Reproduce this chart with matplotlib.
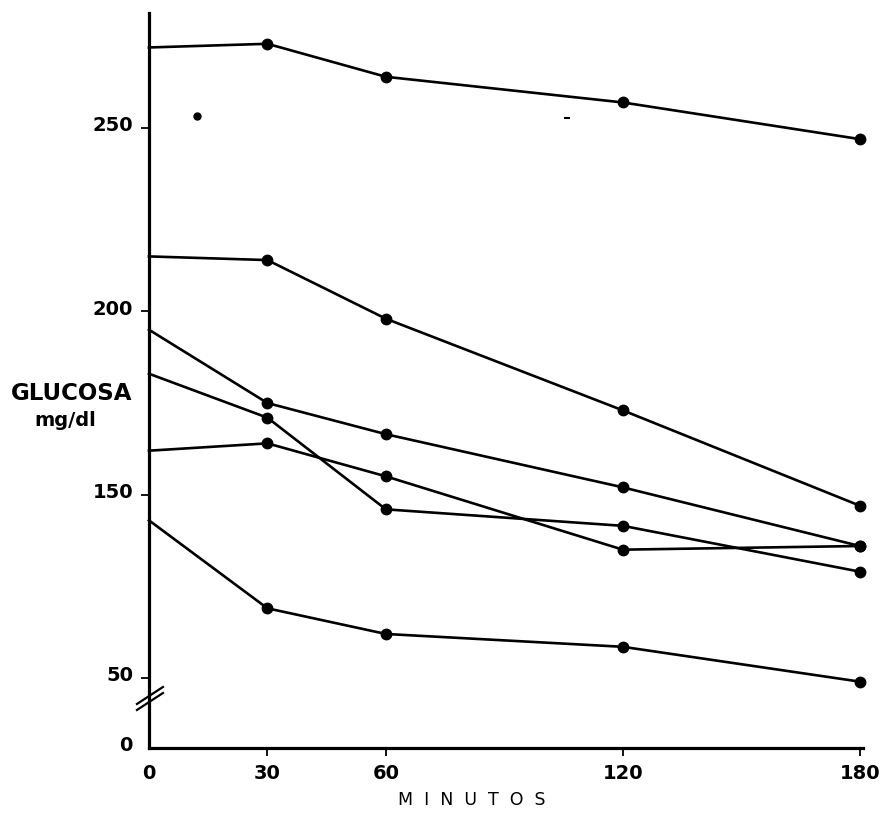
import matplotlib
matplotlib.use("Agg")
import matplotlib.pyplot as plt
import matplotlib.transforms as mtransforms

#########################
# DATA
#########################

MINUTES = [0, 30, 60, 120, 180]

# one list per patient curve, mg/dl (linear scale of the drawing)
CURVE_1 = [272, 273, 264, 257, 247]
CURVE_2 = [215, 214, 198, 173, 147]
CURVE_3 = [195, 175, 166.5, 152, 136]
CURVE_4 = [183, 171, 146, 141.5, 129]
CURVE_5 = [162, 164, 155, 135, 136]
CURVE_6 = [143, 119, 112, 108.5, 99]
CURVES = [CURVE_1, CURVE_2, CURVE_3, CURVE_4, CURVE_5, CURVE_6]

X_TICKS = [0, 30, 60, 120, 180]
X_LABELS = ["0", "30", "60", "120", "180"]

# tick at the axis break is printed "50" in the original
Y_BOTTOM = 80.9
Y_TOP = 281.4
Y_TICKS = [Y_BOTTOM, 100, 150, 200, 250]
Y_LABELS = ["0", "50", "150", "200", "250"]

# specks of the scan inside the plot area
SPECK_X = [12.2]
SPECK_Y = [253.3]
DASH_X = [105.8]
DASH_Y = [252.7]

#########################
# FIGURE
#########################

fig = plt.figure(figsize=(8.83, 8.18), dpi=100)
ax = fig.add_axes([0.1687, 0.0856, 0.8086, 0.8985])

for curve in CURVES:
    ax.plot(MINUTES, curve, color="black", lw=1.9, marker="o", ms=7.5,
            markevery=[1, 2, 3, 4], solid_joinstyle="round", clip_on=False)

ax.plot(SPECK_X, SPECK_Y, "o", color="black", ms=5)
ax.plot(DASH_X, DASH_Y, "_", color="black", ms=5, mew=1.5)

ax.set_xlim(0, 180.8)
ax.set_ylim(Y_BOTTOM, Y_TOP)

for side in ["top", "right"]:
    ax.spines[side].set_visible(False)
for side in ["left", "bottom"]:
    ax.spines[side].set_linewidth(2.3)

ax.set_xticks(X_TICKS)
ax.set_xticklabels(X_LABELS)
ax.set_yticks(Y_TICKS)
ax.set_yticklabels(Y_LABELS)
ax.tick_params(axis="both", direction="out", length=5.5, width=1.3,
               labelsize=14, pad=6)
for lab in ax.get_xticklabels() + ax.get_yticklabels():
    lab.set_fontweight("bold")
ax.xaxis.get_major_ticks()[0].tick1line.set_visible(False)
ax.yaxis.get_major_ticks()[0].tick1line.set_visible(False)

# labels sit slightly above their ticks in the drawing
shift = mtransforms.ScaledTranslation(0, 3 / 72, fig.dpi_scale_trans)
for lab in ax.get_yticklabels():
    lab.set_transform(lab.get_transform() + shift)

# axis break marks
for y0 in [0.0517, 0.0599]:
    ax.plot([-0.0168, 0.0196], [y0, y0 + 0.0231], transform=ax.transAxes,
            color="black", lw=1.6, clip_on=False)

fig.text(72 / 883, 1 - 393 / 818, "GLUCOSA", ha="center", va="center",
         fontsize=16.5, fontweight="bold")
fig.text(65 / 883, 1 - 421 / 818, "mg/dl", ha="center", va="center",
         fontsize=14, fontweight="bold")
fig.text(472 / 883, 1 - 800 / 818, "M  I  N  U  T  O  S", ha="center",
         va="center", fontsize=12.5)

fig.savefig("out.png", dpi=100)
plt.close(fig)
